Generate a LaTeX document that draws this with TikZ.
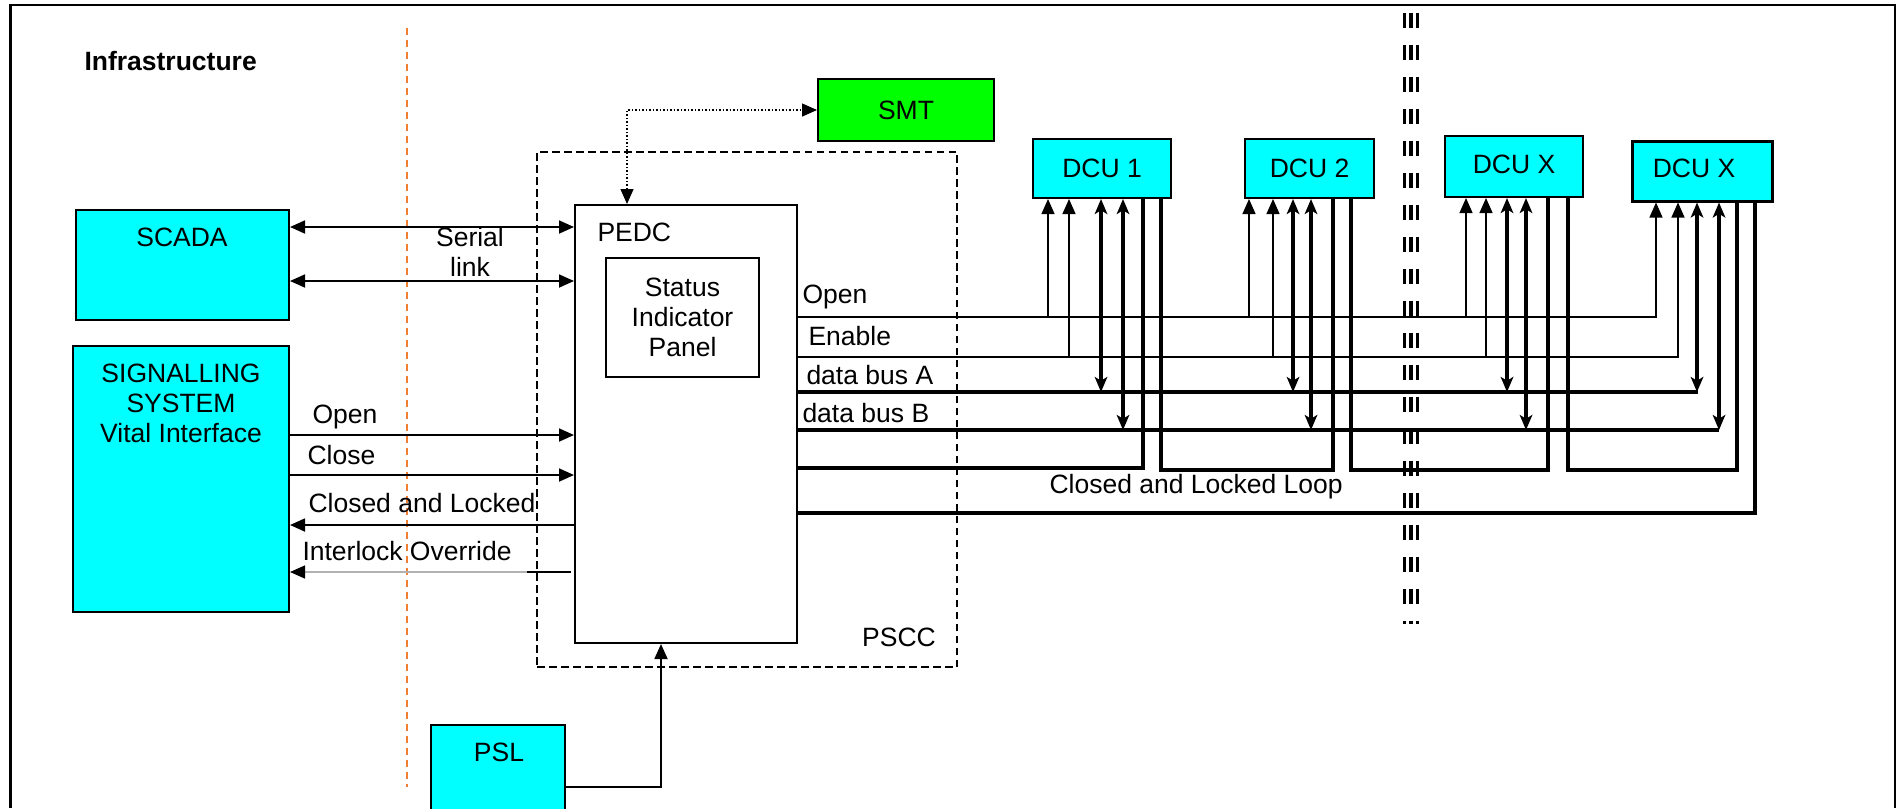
\documentclass[tikz,border=0pt]{standalone}
\usepackage{fontspec}
\setmainfont{Liberation Sans}
\usetikzlibrary{arrows.meta,fit}
\definecolor{aqua}{HTML}{00FFFF}
\definecolor{lime}{HTML}{00FF00}
\definecolor{divider}{HTML}{F08030}

\begin{document}
\begin{tikzpicture}[x=0.4pt,y=-0.4pt,
  font=\fontsize{10.6pt}{12pt}\selectfont,
  >={Triangle[length=6pt,width=5.2pt]},
  box/.style={draw,line width=0.8pt,inner sep=0pt},
  unit/.style={box,fill=aqua},
  sig/.style={line width=0.7pt},
  wire/.style={line width=0.5pt},
  bus/.style={line width=1.4pt,>={Stealth[length=6pt,width=5pt,inset=1.5pt]}},
  lbl/.style={anchor=west,inner sep=0pt}]
  \useasboundingbox (0,0) rectangle (1903,808);
  \clip (0,0) rectangle (1903,808);

  % frame and dividers
  \draw[line width=0.9pt] (10.5,808) |- (1895,5) -- (1895,808);
  \node[lbl] (infra) at (84,61) {\bfseries Infrastructure};
  \draw[divider,line width=0.6pt,dash pattern=on 2.8pt off 2pt] (407,28) -- (407,787);
  \foreach \x in {1404.5,1411,1417.5}
    \draw[line width=1.3pt,dash pattern=on 6pt off 6.8pt] (\x,13) -- (\x,624);

  % station side
  \node[box,fill=lime,fit={(818,79)(994,141)},label={center:SMT}] (smt) {};
  \node[draw,line width=0.7pt,dash pattern=on 3pt off 1.8pt,inner sep=0pt,
        fit={(537,152)(957,667)}] (pscc) {};
  \node (pscctxt) at (899,637) {PSCC};
  \node[box,fill=white,fit={(575,205)(797,643)}] (pedc) {};
  \node[lbl] (pedctxt) at (597,232) {PEDC};
  \node[box,fit={(606,258)(759,377)},
        label={[align=center]center:Status\\Indicator\\Panel}] (sip) {};

  \node[unit,fit={(76,210)(289,320)}] (scada) {};
  \node (scadatxt) at (182,237) {SCADA};
  \node[unit,fit={(73,346)(289,612)}] (sigsys) {};
  \node[align=center] (sigtxt) at (181,403) {SIGNALLING\\SYSTEM\\Vital Interface};
  \node[unit,fit={(431,725)(565,840)}] (psl) {};
  \node (psltxt) at (499,752) {PSL};

  % links to the PEDC
  \draw[<->,sig] (scada.east |- 0,227) -- (pedc.west |- 0,227);
  \draw[<->,sig] (scada.east |- 0,281) -- (pedc.west |- 0,281);
  \node[align=center] (serial) at (470,252) {Serial\\link};
  \draw[->,sig] (sigsys.east |- 0,435) -- (pedc.west |- 0,435);
  \draw[->,sig] (sigsys.east |- 0,475) -- (pedc.west |- 0,475);
  \draw[<-,sig] (sigsys.east |- 0,525) -- (pedc.west |- 0,525);
  \draw[{Triangle[length=6pt,width=5.2pt,color=black]}-,wire,draw=black!30]
    (sigsys.east |- 0,572) -- (571,572);
  \draw[sig] (527,572) -- (571,572);
  \node[lbl] (lopen) at (312,417) {Open};
  \node[lbl] (lclose) at (307,455) {Close};
  \node[lbl] (llocked) at (308,503) {Closed and Locked};
  \node[lbl] (loverride) at (302,551) {Interlock Override};
  \draw[<->,wire,dash pattern=on 0.6pt off 0.8pt] (pedc.north -| 627,0) |- (smt.west);
  \draw[->,sig] (psl.east |- 0,787) -| (pedc.south -| 661,0);

  % door control units
  \node[unit,fit={(1033,139)(1171,198)},label={center:DCU 1}] (dcu1) {};
  \node[unit,fit={(1245,139)(1374,198)},label={center:DCU 2}] (dcu2) {};
  \node[unit,fit={(1445,136)(1583,197)},label={[yshift=1pt]center:DCU X}] (dcu3) {};
  \node[unit,line width=1.2pt,fit={(1632,141)(1772,201)},
        label={[xshift=-3.2pt,yshift=1pt]center:DCU X}] (dcu4) {};

  \draw[->,wire] (pedc.east |- 0,317) -| (dcu4.south -| 1656,0);
  \draw[->,wire] (pedc.east |- 0,357) -| (dcu4.south -| 1678,0);
  \draw[bus] (pedc.east |- 0,392) -- (1698,392);
  \draw[bus] (pedc.east |- 0,430) -- (1719,430);
  \node[lbl] (lopen2) at (802,297) {Open};
  \node[lbl] (lenable) at (808,336) {Enable};
  \node[lbl] (lbusa) at (806,375) {data bus A};
  \node[lbl] (lbusb) at (802,413) {data bus B};

  \foreach \d/\o/\e/\a/\b in {dcu1/1048/1069/1101/1123,dcu2/1249/1273/1293/1311,
                              dcu3/1466/1486/1507/1526,dcu4/0/0/1697/1719} {
    \ifnum\o>0
      \draw[->,wire] (\o,317) -- (\d.south -| \o,0);
      \draw[->,wire] (\e,357) -- (\d.south -| \e,0);
    \fi
    \draw[bus,<->] (\d.south -| \a,0) -- (\a,392);
    \draw[bus,<->] (\d.south -| \b,0) -- (\b,430);
  }

  % closed and locked loop
  \draw[bus] (pedc.east |- 0,468) -| (dcu1.south -| 1143,0);
  \draw[bus] (dcu1.south -| 1161,0) -- (1161,470) -| (dcu2.south -| 1333,0);
  \draw[bus] (dcu2.south -| 1351,0) -- (1351,470) -| (dcu3.south -| 1548,0);
  \draw[bus] (dcu3.south -| 1568,0) -- (1568,470) -| (dcu4.south -| 1737,0);
  \draw[bus] (dcu4.south -| 1755,0) |- (pedc.east |- 0,513);
  \node[lbl] (lloop) at (1049,487) {Closed and Locked Loop};
\end{tikzpicture}
\end{document}
